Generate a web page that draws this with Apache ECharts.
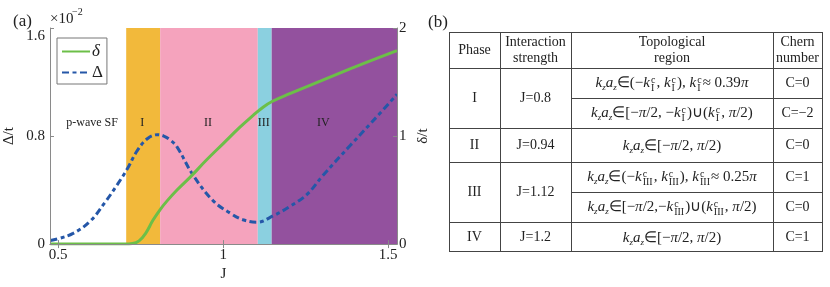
<!DOCTYPE html>
<html><head><meta charset="utf-8">
<script src="https://cdn.jsdelivr.net/npm/echarts@6/dist/echarts.min.js"></script>
<style>
html,body{margin:0;padding:0;background:#fff;}
#chart{position:absolute;left:0;top:0;width:830px;height:287px;}
#tbl{position:absolute;left:0;top:0;width:830px;height:287px;font-family:"Liberation Serif","Times New Roman",serif;color:#222;pointer-events:none;}
.cell{position:absolute;box-sizing:border-box;border-right:1px solid #444;border-bottom:1px solid #444;display:flex;align-items:center;justify-content:center;text-align:center;font-size:14px;line-height:16px;white-space:nowrap;}
.cell.m{font-size:15px;}
.frame{position:absolute;box-sizing:border-box;border-top:1px solid #444;border-left:1px solid #444;}
.ss{display:inline-block;vertical-align:-4px;font-size:10px;line-height:8px;text-align:left;margin-right:1px;margin-left:1px;font-style:normal;}
.ss span{display:block;}
sub{font-size:9px;vertical-align:-3px;font-style:italic;line-height:0;}
.lbl{position:absolute;font-family:"Liberation Serif","Times New Roman",serif;font-size:17px;color:#222;}
</style></head>
<body>
<div id="chart"></div>
<div id="tbl"></div>
<script>
// ---------- data ----------
const xRange = [0.475, 1.527];
const xTicks = [0.5, 1, 1.5];
const gapTicks = [0, 0.8, 1.6];      // Δ/t (×10^-2)
const deltaTicks = [0, 1, 2];        // δ/t
const deltaJ =   [0.476, 0.60, 0.70, 0.725, 0.745, 0.765, 0.787, 0.809, 0.83, 0.86, 0.90, 0.95, 1.00, 1.05, 1.09, 1.12, 1.148, 1.20, 1.30, 1.40, 1.527];
const deltaVal = [0,     0,    0,    0.005, 0.03,  0.10,  0.22,  0.32,  0.40, 0.50, 0.62, 0.78, 0.93, 1.08, 1.19, 1.265, 1.32, 1.39, 1.515, 1.64, 1.79];
const gapJ =   [0.476, 0.50, 0.545, 0.597, 0.642, 0.679, 0.71, 0.739, 0.77, 0.80, 0.82, 0.84, 0.86, 0.909, 0.97, 1.021, 1.06, 1.103, 1.152, 1.203, 1.255, 1.303, 1.385, 1.476, 1.527];
const gapVal = [0.026, 0.04, 0.079, 0.17,  0.31,  0.44,  0.56, 0.69,  0.78, 0.81, 0.80, 0.77, 0.72, 0.51,  0.32, 0.23,  0.18, 0.162, 0.21,  0.28,  0.37,  0.51,  0.73,  0.97,  1.11];
const regionBounds = [0.475, 0.706, 0.809, 1.105, 1.147, 1.527];
const regionNames = ['p-wave SF', 'I', 'II', 'III', 'IV'];

// table data
const tableHeader = ['Phase', 'Interaction<br>strength', 'Topological<br>region', 'Chern<br>number'];
const phases = ['I', 'II', 'III', 'IV'];
const strengths = ['J=0.8', 'J=0.94', 'J=1.12', 'J=1.2'];
const phaseRows = [[1, 3], [3, 4], [4, 6], [6, 7]];
const topoRegions = [
  'KA∈(−K{I}, K{I}), K{I}≈ 0.39π',
  'KA∈[−π/2, −K{I})∪(K{I}, π/2)',
  'KA∈[−π/2, π/2)',
  'KA∈(−K{III}, K{III}),  K{III}≈ 0.25π',
  'KA∈[−π/2,−K{III})∪(K{III}, π/2)',
  'KA∈[−π/2, π/2)'
];
const cherns = ['C=0', 'C=−2', 'C=0', 'C=1', 'C=0', 'C=1'];

// ---------- styles / layout ----------
const regionColors = ['rgba(0,0,0,0)', '#f2b93b', '#f5a3bd', '#8bd0e0', '#93519e'];
const regionLabelOffsets = [[4, -13], [-1, -13], [-1, -13], [-1, -13], [-11, -13]];
const colX = [449, 500, 571, 773, 822];
const rowY = [32, 68, 98, 128, 162, 192, 222, 251];
const serif = '"Liberation Serif","Times New Roman",serif';
const axisGray = '#8a8a8a';

// ---------- chart ----------
const chart = echarts.init(document.getElementById('chart'), null, {renderer: 'canvas'});
const zip = (a, b) => a.map((v, i) => [v, b[i]]);
const markData = regionNames.map((n, i) => [
  {xAxis: regionBounds[i], name: n, itemStyle: {color: regionColors[i]},
   label: {offset: regionLabelOffsets[i]}},
  {xAxis: regionBounds[i + 1]}
]);
const tickCommon = {show: true, inside: true, length: 4, lineStyle: {color: axisGray}};
const labelCommon = {fontFamily: serif, fontSize: 15, color: '#222'};
const option = {
  animation: false,
  grid: {left: 50, top: 28, right: 433, bottom: 35, containLabel: false},
  legend: {
    left: 57, top: 38, orient: 'vertical', data: ['δ', 'Δ'],
    itemWidth: 28, itemHeight: 14, itemGap: 4, padding: [5, 4, 3, 4],
    backgroundColor: '#fff', borderColor: '#777', borderWidth: 1, borderRadius: 0,
    itemStyle: {opacity: 0},
    formatter: n => n === 'δ' ? '{i|δ}' : '{n|Δ}',
    textStyle: {fontFamily: serif, fontSize: 17, color: '#222', padding: [0,0,0,-3],
      rich: {i: {fontStyle: 'italic', fontFamily: serif, fontSize: 17}, n: {fontFamily: serif, fontSize: 17}}}
  },
  xAxis: [{
    type: 'value', min: xRange[0], max: xRange[1], position: 'bottom', z: 5,
    name: 'J', nameLocation: 'middle', nameGap: 17,
    nameTextStyle: {fontFamily: serif, fontSize: 15, color: '#222'},
    axisLine: {show: true, lineStyle: {color: axisGray}},
    axisTick: Object.assign({customValues: xTicks}, tickCommon),
    axisLabel: Object.assign({customValues: xTicks, margin: 3, formatter: v => String(v)}, labelCommon),
    splitLine: {show: false}
  }, {
    type: 'value', min: xRange[0], max: xRange[1], position: 'top', z: 5,
    axisLine: {show: true, lineStyle: {color: axisGray}},
    axisTick: Object.assign({customValues: xTicks}, tickCommon),
    axisLabel: {show: false}, splitLine: {show: false}
  }],
  yAxis: [{
    type: 'value', min: 0, max: 1.6, interval: 0.8, position: 'left', z: 5,
    name: 'Δ/t', nameLocation: 'middle', nameGap: 33,
    nameTextStyle: {fontFamily: serif, fontSize: 15, color: '#222'},
    axisLine: {show: true, lineStyle: {color: axisGray}},
    axisTick: tickCommon,
    axisLabel: Object.assign({margin: 5, customValues: gapTicks,
      formatter: v => v === 1.6 ? '{d|1.6}' : String(v),
      rich: {d: {fontFamily: serif, fontSize: 15, color: '#222', padding: [16, 0, 0, 0]}}}, labelCommon),
    splitLine: {show: false}
  }, {
    type: 'value', min: 0, max: 2, interval: 1, position: 'right', z: 5,
    name: 'δ/t', nameLocation: 'middle', nameGap: 19,
    nameTextStyle: {fontFamily: serif, fontSize: 15, color: '#222'},
    axisLine: {show: true, lineStyle: {color: axisGray}},
    axisTick: tickCommon,
    axisLabel: Object.assign({margin: 2, customValues: deltaTicks}, labelCommon),
    splitLine: {show: false}
  }],
  series: [{
    name: 'regions', type: 'line', data: [], silent: true,
    markArea: {silent: true,
      label: {show: true, position: 'inside', fontFamily: serif, fontSize: 12, color: '#222'},
      data: markData}
  }, {
    name: 'Δ', type: 'line', xAxisIndex: 0, yAxisIndex: 0, data: zip(gapJ, gapVal),
    smooth: 0.4, symbol: 'none', z: 3,
    lineStyle: {color: '#2557a8', width: 3, type: [7, 3.5, 4, 3.5]},
    itemStyle: {color: '#2557a8'}
  }, {
    name: 'δ', type: 'line', xAxisIndex: 0, yAxisIndex: 1, data: zip(deltaJ, deltaVal),
    smooth: 0.4, symbol: 'none', z: 4,
    lineStyle: {color: '#6cbf48', width: 3},
    itemStyle: {color: '#6cbf48'}
  }],
  graphic: [
    {type: 'text', left: 13, top: 13, style: {text: '(a)', font: '17px ' + serif, fill: '#222'}},
    {type: 'text', left: 50, top: 12, style: {text: '×10', font: '15px ' + serif, fill: '#222'}},
    {type: 'text', left: 72, top: 7, style: {text: '−2', font: '10px ' + serif, fill: '#222'}}
  ]
};
chart.setOption(option);

// ---------- table ----------
const tbl = document.getElementById('tbl');
function mathify(s) {
  return s.replace(/KA/g, '<i>k</i><sub>z</sub><i>a</i><sub>z</sub>')
          .replace(/K\{(I+)\}/g, (m, r) => '<i>k</i><span class="ss"><span>c</span><span>' + r + '</span></span>')
          .replace(/π/g, '<i>π</i>');
}
function cell(r0, r1, c0, c1, html, cls) {
  const d = document.createElement('div');
  d.className = 'cell' + (cls ? ' ' + cls : '');
  d.style.left = colX[c0] + 'px'; d.style.top = rowY[r0] + 'px';
  d.style.width = (colX[c1] - colX[c0] + 1) + 'px';
  d.style.height = (rowY[r1] - rowY[r0] + 1) + 'px';
  d.innerHTML = '<span>' + html + '</span>';
  tbl.appendChild(d);
}
const fr = document.createElement('div');
fr.className = 'frame';
fr.style.left = colX[0] + 'px'; fr.style.top = rowY[0] + 'px';
fr.style.width = (colX[4] - colX[0]) + 'px'; fr.style.height = (rowY[7] - rowY[0]) + 'px';
tbl.appendChild(fr);
tableHeader.forEach((h, i) => cell(0, 1, i, i + 1, h));
phases.forEach((p, i) => {
  cell(phaseRows[i][0], phaseRows[i][1], 0, 1, p);
  cell(phaseRows[i][0], phaseRows[i][1], 1, 2, strengths[i]);
});
topoRegions.forEach((t, i) => {
  cell(i + 1, i + 2, 2, 3, mathify(t), 'm');
  cell(i + 1, i + 2, 3, 4, cherns[i]);
});
const b = document.createElement('div');
b.className = 'lbl'; b.style.left = '428px'; b.style.top = '12px'; b.textContent = '(b)';
tbl.appendChild(b);
</script>
</body></html>
